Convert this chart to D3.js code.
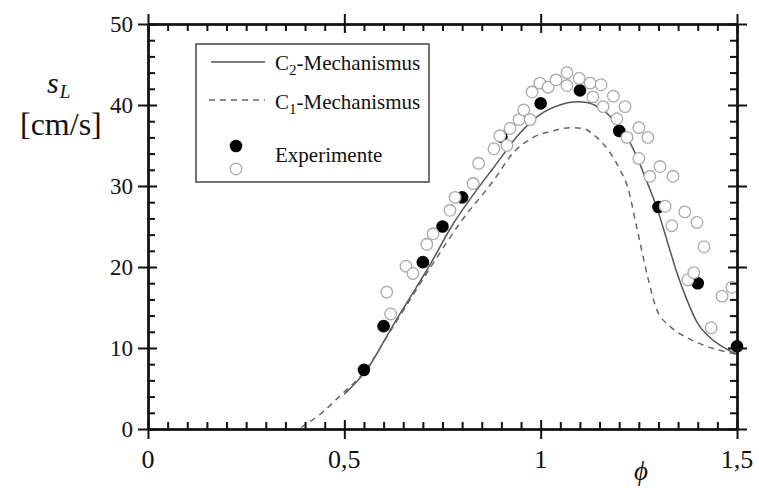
<!DOCTYPE html>
<html><head><meta charset="utf-8">
<script src="https://cdn.jsdelivr.net/npm/d3@7"></script>
<style>body{margin:0;background:#fff}svg{display:block}</style>
</head><body><svg id="c" width="759" height="488"></svg>
<script>
// data (phi, s_L in cm/s)
const c2Mech = [[0.50,4.3],[0.557,7.3],[0.624,12.8],[0.722,20.6],[0.773,25.0],[0.828,28.9],[0.879,32.2],[0.947,36.5],[0.998,38.8],[1.049,40.0],[1.092,40.4],[1.118,40.3],[1.151,39.6],[1.185,38.2],[1.219,36.1],[1.245,33.6],[1.270,30.6],[1.296,27.3],[1.321,23.4],[1.347,19.3],[1.372,16.0],[1.398,13.2],[1.431,11.3],[1.465,10.1],[1.5,9.2]];
const c1Mech = [[0.39,0.2],[0.443,2.0],[0.489,4.1],[0.55,7.0],[0.62,12.3],[0.72,20.0],[0.80,25.8],[0.879,30.6],[0.930,34.1],[0.981,36.0],[1.031,36.8],[1.075,37.2],[1.108,37.1],[1.143,36.0],[1.177,34.1],[1.202,32.0],[1.222,29.8],[1.245,24.8],[1.274,18.5],[1.295,14.8],[1.329,12.7],[1.372,11.3],[1.423,10.2],[1.474,9.5],[1.5,9.2]];
const expFilled = [[0.55,7.3],[0.6,12.7],[0.7,20.6],[0.75,25.0],[0.8,28.6],[0.9,36.1],[1.0,40.2],[1.1,41.8],[1.2,36.8],[1.3,27.4],[1.4,18.0],[1.5,10.2]];
const expOpen = [[0.608,16.9],[0.618,14.2],[0.657,20.1],[0.675,19.2],[0.710,22.8],[0.726,24.1],[0.769,27.0],[0.782,28.6],[0.828,30.3],[0.842,32.8],[0.881,34.6],[0.896,36.2],[0.914,35.0],[0.922,37.1],[0.945,38.2],[0.957,39.4],[0.973,38.2],[0.978,41.6],[0.998,42.7],[1.019,42.2],[1.039,43.1],[1.067,44.0],[1.067,42.4],[1.098,43.3],[1.126,42.7],[1.133,41.0],[1.154,42.5],[1.159,39.8],[1.185,41.1],[1.194,38.3],[1.215,39.8],[1.220,36.0],[1.250,37.2],[1.250,33.4],[1.273,36.0],[1.278,31.2],[1.304,32.4],[1.317,27.5],[1.334,25.1],[1.337,31.2],[1.367,26.8],[1.375,18.4],[1.390,19.3],[1.398,25.5],[1.416,22.5],[1.434,12.5],[1.462,16.4],[1.487,17.5]];
const xTickLabels = ["0","0,5","1","1,5"];
const xMajor = [0,0.5,1,1.5];
const yMajor = [0,10,20,30,40,50];
const legendLabels = [["C","2","-Mechanismus"],["C","1","-Mechanismus"],["Experimente"]];

const FONT = "'Liberation Serif','Times New Roman',serif";
const svg = d3.select("#c");
const x = d3.scaleLinear().domain([0,1.5]).range([148,737]);
const y = d3.scaleLinear().domain([0,50]).range([429,24]);

// curves
const line = d3.line().x(d=>x(d[0])).y(d=>y(d[1])).curve(d3.curveMonotoneX);
svg.append("path").attr("d",line(c2Mech)).attr("fill","none").attr("stroke","#555").attr("stroke-width",1.5);
svg.append("path").attr("d",line(c1Mech)).attr("fill","none").attr("stroke","#666").attr("stroke-width",1.5).attr("stroke-dasharray","6,5");

// points
svg.append("g").selectAll("circle").data(expFilled).join("circle")
  .attr("cx",d=>x(d[0])).attr("cy",d=>y(d[1])).attr("r",6.3).attr("fill","#000");
svg.append("g").selectAll("circle").data(expOpen).join("circle")
  .attr("cx",d=>x(d[0])).attr("cy",d=>y(d[1])).attr("r",5.8).attr("fill","#fff").attr("stroke","#aaa").attr("stroke-width",1.3);

// axes
const ax = svg.append("g");
const x0=x(0), x1=x(1.5), y0=y(0), y1=y(50);
const minorLen=7, majIn=9, majOut=10;
const xMinor = d3.range(0,31).map(i=>i*0.05).filter(v=>!xMajor.some(m=>Math.abs(m-v)<1e-6));
const yMinor = d3.range(0,26).map(i=>i*2).filter(v=>v%10!==0);
function add(tr, axis, vals, size){
  ax.append("g").attr("transform",tr).call(axis.tickValues(vals).tickSize(size).tickSizeOuter(0).tickFormat(""));
}
add(`translate(0,${y0})`, d3.axisBottom(x), xMajor, majOut);
add(`translate(0,${y0})`, d3.axisTop(x), xMajor, majIn);
add(`translate(0,${y0})`, d3.axisTop(x), xMinor, minorLen);
add(`translate(0,${y1})`, d3.axisTop(x), xMajor, majOut);
add(`translate(0,${y1})`, d3.axisBottom(x), xMajor, majIn);
add(`translate(0,${y1})`, d3.axisBottom(x), xMinor, minorLen);
add(`translate(${x0},0)`, d3.axisLeft(y), yMajor, majOut);
add(`translate(${x0},0)`, d3.axisRight(y), yMajor, majIn);
add(`translate(${x0},0)`, d3.axisRight(y), yMinor, minorLen);
add(`translate(${x1},0)`, d3.axisRight(y), yMajor, majOut);
add(`translate(${x1},0)`, d3.axisLeft(y), yMajor, majIn);
add(`translate(${x1},0)`, d3.axisLeft(y), yMinor, minorLen);
ax.selectAll("line").attr("stroke","#111").attr("stroke-width",2);
ax.selectAll("path.domain").attr("stroke","#111").attr("stroke-width",2);

// tick labels
svg.append("g").selectAll("text").data(yMajor).join("text")
  .attr("font-family",FONT).attr("fill","#111")
  .attr("x",133).attr("y",d=>y(d)).attr("dy","0.34em").attr("text-anchor","end")
  .attr("font-size",23).text(d=>d);
svg.append("g").selectAll("text").data(xMajor).join("text")
  .attr("font-family",FONT).attr("fill","#111")
  .attr("x",d=>x(d)).attr("y",468).attr("text-anchor","middle")
  .attr("font-size",26).text((d,i)=>xTickLabels[i]);

// axis titles
const yl = svg.append("text").attr("font-family",FONT).attr("fill","#111").attr("x",47).attr("y",93);
yl.append("tspan").attr("font-style","italic").attr("font-size",30).text("s");
yl.append("tspan").attr("font-style","italic").attr("font-size",19).attr("dy",5).attr("dx",1).text("L");
svg.append("text").attr("font-family",FONT).attr("fill","#111").attr("x",20).attr("y",135).attr("font-size",32).text("[cm/s]");
svg.append("text").attr("font-family",FONT).attr("fill","#111").attr("x",641).attr("y",480).attr("text-anchor","middle").attr("font-style","italic").attr("font-size",27).text("ϕ");

// legend
const lg = svg.append("g");
lg.append("rect").attr("x",196).attr("y",44).attr("width",233).attr("height",138).attr("fill","#fff").attr("stroke","#444").attr("stroke-width",1.5);
lg.append("line").attr("x1",211).attr("x2",265).attr("y1",62).attr("y2",62).attr("stroke","#555").attr("stroke-width",1.5);
lg.append("line").attr("x1",209).attr("x2",265).attr("y1",100).attr("y2",100).attr("stroke","#666").attr("stroke-width",1.5).attr("stroke-dasharray","6,5");
[[70,legendLabels[0]],[109,legendLabels[1]]].forEach(([by,l])=>{
  const t = lg.append("text").attr("font-family",FONT).attr("fill","#111").attr("x",275).attr("y",by).attr("font-size",21);
  t.append("tspan").text(l[0]);
  t.append("tspan").attr("font-size",15).attr("dy",5).text(l[1]);
  t.append("tspan").attr("dy",-5).text(l[2]);
});
lg.append("circle").attr("cx",236).attr("cy",146).attr("r",6.3).attr("fill","#000");
lg.append("circle").attr("cx",236).attr("cy",169).attr("r",5.8).attr("fill","#fff").attr("stroke","#aaa").attr("stroke-width",1.3);
lg.append("text").attr("font-family",FONT).attr("fill","#111").attr("x",275).attr("y",162).attr("font-size",21).text(legendLabels[2][0]);
</script></body></html>
